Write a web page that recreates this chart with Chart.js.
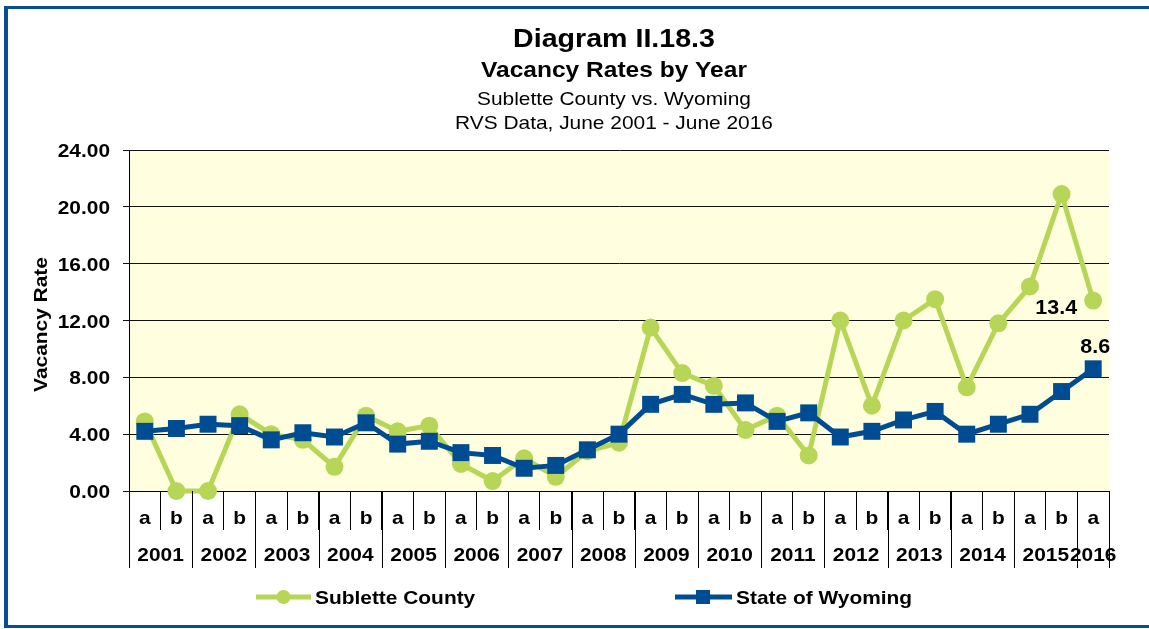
<!DOCTYPE html>
<html>
<head>
<meta charset="utf-8">
<title>Vacancy Rates by Year</title>
<script src="https://cdn.jsdelivr.net/npm/chart.js@4.4.1/dist/chart.umd.min.js"></script>
<style>
  html, body { margin: 0; padding: 0; background: #fff; }
  #vacancy { display: block; }
</style>
</head>
<body>
<canvas id="vacancy" width="1149" height="629"></canvas>
<script>
// half-year periods (a = June, b = December)
const periods = ['a', 'b', 'a', 'b', 'a', 'b', 'a', 'b', 'a', 'b', 'a', 'b', 'a', 'b', 'a', 'b',
  'a', 'b', 'a', 'b', 'a', 'b', 'a', 'b', 'a', 'b', 'a', 'b', 'a', 'b', 'a'];
const years = ['2001', '2002', '2003', '2004', '2005', '2006', '2007', '2008',
  '2009', '2010', '2011', '2012', '2013', '2014', '2015', '2016'];

const sublette = [4.9, 0.0, 0.0, 5.4, 4.0, 3.6, 1.7, 5.3, 4.2, 4.6, 1.9, 0.7, 2.3, 1.0, 2.8, 3.4,
  11.5, 8.3, 7.4, 4.3, 5.3, 2.5, 12.0, 6.0, 12.0, 13.5, 7.3, 11.8, 14.4, 20.9, 13.4];
const wyoming = [4.2, 4.4, 4.7, 4.6, 3.6, 4.1, 3.8, 4.8, 3.3, 3.5, 2.7, 2.5, 1.6, 1.8, 2.9, 4.0,
  6.1, 6.8, 6.1, 6.2, 4.9, 5.5, 3.8, 4.2, 5.0, 5.6, 4.0, 4.7, 5.4, 7.0, 8.6];

const yTicks = [0, 4, 8, 12, 16, 20, 24];
const titles = ['Diagram II.18.3', 'Vacancy Rates by Year', 'Sublette County vs. Wyoming', 'RVS Data, June 2001 - June 2016'];

const green = '#b7d657';
const blue = '#004c93';
const frame = '#0b4d95';
const plotFill = '#ffffe0';
const SX = 1.1; // the original text runs a bit wide

function text(ctx, str, x, y, size, bold, align, rot) {
  ctx.save();
  ctx.translate(x, y);
  if (rot) ctx.rotate(rot);
  ctx.scale(SX, 1);
  ctx.font = (bold ? 'bold ' : '') + size + 'px "Liberation Sans", Arial, sans-serif';
  ctx.textAlign = align || 'center';
  ctx.textBaseline = 'alphabetic';
  ctx.fillStyle = '#000';
  ctx.fillText(str, 0, 0);
  ctx.restore();
}

const decor = {
  id: 'decor',
  beforeDraw(chart) {
    const { ctx, chartArea: a } = chart;
    ctx.save();
    ctx.fillStyle = '#fff';
    ctx.fillRect(0, 0, chart.width, chart.height);
    ctx.fillStyle = plotFill;
    ctx.fillRect(a.left, a.top, a.right - a.left, a.bottom - a.top);
    ctx.restore();
  },
  afterDraw(chart) {
    const { ctx, chartArea: a } = chart;
    const x = chart.scales.x;
    const y = chart.scales.y;
    const step = x.getPixelForValue(1) - x.getPixelForValue(0);

    // titles
    const mid = (a.left + a.right) / 2 - 5;
    text(ctx, titles[0], mid, 47, 26, true);
    text(ctx, titles[1], mid, 77, 22.3, true);
    text(ctx, titles[2], mid, 105, 19, false);
    text(ctx, titles[3], mid, 129, 19, false);

    // y axis labels and title
    yTicks.forEach((v) => text(ctx, v.toFixed(2), 110, y.getPixelForValue(v) + 7, 19, true, 'right'));
    text(ctx, 'Vacancy Rate', 47, (a.top + a.bottom) / 2 + 4, 19, true, 'center', -Math.PI / 2);

    // a / b row
    periods.forEach((p, i) => text(ctx, p, x.getPixelForValue(i), 524, 19, true));

    // year row with its separators
    ctx.save();
    ctx.strokeStyle = '#000';
    ctx.lineWidth = 1;
    let start = 0;
    years.forEach((yr) => {
      let end = start;
      while (end + 1 < periods.length && periods[end + 1] !== 'a') end++;
      const l = x.getPixelForValue(start) - step / 2;
      const r = x.getPixelForValue(end) + step / 2;
      text(ctx, yr, (l + r) / 2, 561, 19, true);
      [l, r].forEach((px) => {
        ctx.beginPath();
        ctx.moveTo(Math.round(px) + 0.5, a.bottom);
        ctx.lineTo(Math.round(px) + 0.5, 568);
        ctx.stroke();
      });
      start = end + 1;
    });
    ctx.restore();

    // data labels on the last period
    const last = periods.length - 1;
    const pS = chart.getDatasetMeta(0).data[last];
    const pW = chart.getDatasetMeta(1).data[last];
    text(ctx, sublette[last].toFixed(1), pS.x - 37, pS.y + 13, 19.5, true);
    text(ctx, wyoming[last].toFixed(1), pW.x + 2, pW.y - 16, 19.5, true);

    // legend
    ctx.save();
    ctx.lineWidth = 5;
    ctx.strokeStyle = green;
    ctx.beginPath(); ctx.moveTo(256, 597); ctx.lineTo(311, 597); ctx.stroke();
    ctx.fillStyle = green;
    ctx.beginPath(); ctx.arc(283.5, 597, 7, 0, Math.PI * 2); ctx.fill();
    ctx.strokeStyle = blue;
    ctx.beginPath(); ctx.moveTo(675, 597); ctx.lineTo(732, 597); ctx.stroke();
    ctx.fillStyle = blue;
    ctx.fillRect(696, 590, 14, 14);
    ctx.restore();
    text(ctx, chart.data.datasets[0].label, 315, 604, 19, true, 'left');
    text(ctx, chart.data.datasets[1].label, 736, 604, 19, true, 'left');

    // frame
    ctx.save();
    ctx.fillStyle = frame;
    ctx.fillRect(4, 6, chart.width - 4, 3);
    ctx.fillRect(4, 6, 4, 622);
    ctx.fillRect(4, 625, chart.width - 4, 3);
    ctx.restore();
  }
};

new Chart(document.getElementById('vacancy'), {
  type: 'line',
  data: {
    labels: periods,
    datasets: [{
      label: 'Sublette County',
      data: sublette,
      borderColor: green,
      backgroundColor: green,
      borderWidth: 5,
      pointStyle: 'circle',
      pointRadius: 9,
      pointBorderWidth: 0,
      tension: 0,
      clip: false,
      order: 2
    }, {
      label: 'State of Wyoming',
      data: wyoming,
      borderColor: blue,
      backgroundColor: blue,
      borderWidth: 5,
      pointStyle: 'rect',
      pointRadius: 12,
      pointBorderWidth: 0,
      tension: 0,
      clip: false,
      order: 1
    }]
  },
  options: {
    responsive: false,
    animation: false,
    layout: { padding: { top: 150, right: 40, left: 0, bottom: 0 } },
    plugins: {
      legend: { display: false },
      title: { display: false },
      tooltip: { enabled: false }
    },
    scales: {
      x: {
        type: 'category',
        offset: true,
        ticks: { display: false },
        grid: { offset: true, drawOnChartArea: false, drawTicks: true, tickLength: 39, color: '#000' },
        border: { color: '#000' },
        afterFit: (s) => { s.height = 138; }
      },
      y: {
        min: 0,
        max: 24,
        ticks: { display: false, stepSize: 4 },
        grid: { color: '#111', tickLength: 6 },
        border: { color: '#000' },
        afterFit: (s) => { s.width = 129; }
      }
    }
  },
  plugins: [decor]
});
</script>
</body>
</html>
